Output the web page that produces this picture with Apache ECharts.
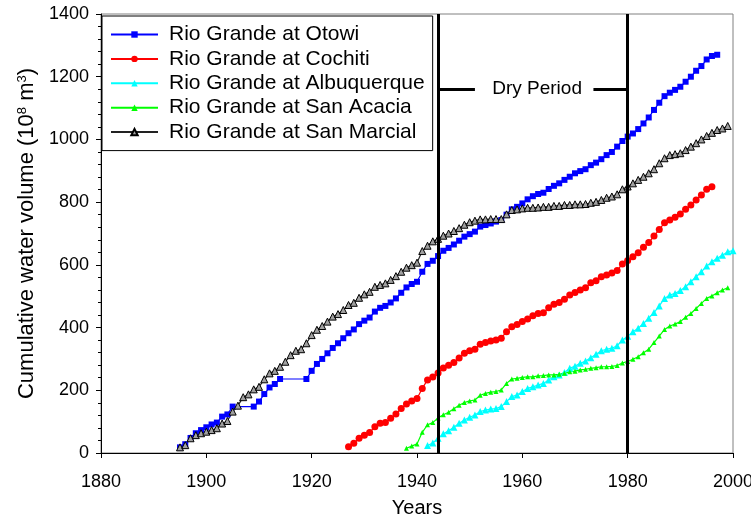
<!DOCTYPE html>
<html>
<head>
<meta charset="utf-8">
<style>
  html, body { margin: 0; padding: 0; background: #ffffff; }
  #chart { width: 751px; height: 520px; }
</style>
<script src="https://cdn.jsdelivr.net/npm/echarts@6/dist/echarts.min.js"></script>
</head>
<body>
<div id="chart"></div>
<script>
// Cumulative annual water volume (10^8 m^3) at five Rio Grande gauging stations.

const FONT = '"Liberation Sans", Arial, Helvetica, sans-serif';

// Axis ranges and tick spacing
const xMin = 1880, xMax = 2000, xStep = 20;
const yMin = 0, yMax = 1400, yStep = 200;

// Dry period markers
const dryStart = 1944;
const dryEnd = 1980;
const dryLevel = 1160;
const dryLabel = 'Dry Period';
const dryLabelYear = 1962.8;
const dryGapStart = 1951;
const dryGapEnd = 1973.5;

// Series names
const seriesNames = [
  'Rio Grande at Otowi',
  'Rio Grande at Cochiti',
  'Rio Grande at Albuquerque',
  'Rio Grande at San Acacia',
  'Rio Grande at San Marcial'
];

function span(first, last) {
  const out = [];
  for (let y = first; y <= last; y++) out.push(y);
  return out;
}

// Otowi (record has gaps 1906-1908 and 1915-1918)
const otowiYears = span(1895, 1905).concat(span(1909, 1914), span(1919, 1997));
const otowiValues = [
  18, 28, 48, 63, 73, 82, 91, 97, 116, 123, 148,
  148, 164, 188, 209, 220, 236,
  236, 262, 284, 300, 318, 335, 350, 366, 382, 394,
  411, 422, 432, 451, 463, 469, 480, 493, 511, 528,
  539, 546, 578, 603, 613,
  628, 645, 654, 665, 677, 690, 698, 706, 722, 727,
  732, 738, 743, 760, 777, 785, 796, 809, 819, 826,
  830, 842, 852, 860, 871, 881, 892, 899, 905, 918,
  926, 937, 950, 960, 977, 995, 1009, 1019, 1033, 1051,
  1070, 1094, 1117, 1138, 1149, 1158, 1168, 1184, 1200, 1219,
  1234, 1255, 1266, 1270
];

// Cochiti 1927-1996
const cochitiYears = span(1927, 1996);
const cochitiValues = [
  20, 31, 47, 57, 65, 84, 95, 97, 111, 124,
  142, 156, 166, 174, 206, 233, 242, 255, 271, 280,
  289, 303, 318, 326, 331, 347, 352, 357, 360, 366,
  387, 403, 410, 419, 427, 438, 445, 447, 463, 474,
  480, 490, 504, 512, 520, 527, 543, 549, 562, 568,
  574, 582, 603, 614, 626, 639, 656, 671, 692, 713,
  734, 743, 752, 762, 777, 791, 807, 823, 841, 849
];

// Albuquerque 1942-2000
const albuquerqueYears = span(1942, 2000);
const albuquerqueValues = [
  24, 32, 47, 61, 71, 82, 95, 105, 114, 121,
  132, 137, 140, 142, 148, 164, 180, 185, 196, 206,
  211, 217, 222, 233, 243, 249, 257, 270, 277, 286,
  293, 304, 315, 326, 331, 334, 342, 360, 372, 387,
  398, 413, 430, 448, 469, 493, 504, 509, 518, 530,
  546, 562, 578, 596, 610, 621, 631, 642, 645
];

// San Acacia 1938-1999
const sanAcaciaYears = span(1938, 1999);
const sanAcaciaValues = [
  15, 22, 29, 66, 90, 97, 112, 122, 130, 141,
  152, 161, 166, 169, 184, 190, 194, 196, 201, 222,
  236, 238, 241, 243, 243, 246, 247, 249, 249, 251,
  254, 259, 261, 265, 267, 270, 272, 275, 275, 276,
  279, 287, 292, 299, 307, 320, 331, 352, 373, 394,
  405, 411, 419, 433, 445, 461, 477, 493, 501, 511,
  520, 527
];

// San Marcial 1895-1999
const sanMarcialYears = span(1895, 1999);
const sanMarcialValues = [
  18, 25, 47, 57, 63, 68, 73, 79, 94, 102,
  132, 151, 178, 187, 203, 211, 235, 254, 262, 275,
  291, 312, 326, 331, 350, 376, 393, 405, 419, 435,
  443, 456, 472, 479, 495, 506, 514, 530, 536, 541,
  552, 564, 578, 591, 599, 607, 644, 661, 675, 683,
  693, 700, 708, 717, 728, 736, 741, 745, 745, 746,
  746, 746, 761, 775, 777, 780, 782, 782, 783, 785,
  785, 788, 788, 791, 791, 793, 793, 794, 798, 801,
  807, 814, 818, 825, 841, 850, 860, 871, 881, 892,
  905, 924, 940, 950, 953, 956, 966, 977, 988, 1000,
  1011, 1021, 1030, 1035, 1043
];

function pairs(years, values) {
  return years.map((y, i) => [y, values[i]]);
}

function lineSeries(name, years, values, color, symbol, size, extra) {
  const s = {
    name: name,
    type: 'line',
    data: pairs(years, values),
    symbol: symbol,
    symbolSize: size,
    showSymbol: true,
    lineStyle: { color: color, width: 1.2 },
    itemStyle: { color: color },
    emphasis: { disabled: true },
    animation: false,
    silent: true
  };
  return Object.assign(s, extra || {});
}

const chart = echarts.init(document.getElementById('chart'), null, { renderer: 'canvas' });

const series = [
  lineSeries(seriesNames[0], otowiYears, otowiValues, '#0000ff', 'rect', 6),
  lineSeries(seriesNames[1], cochitiYears, cochitiValues, '#ff0000', 'circle', 7),
  lineSeries(seriesNames[2], albuquerqueYears, albuquerqueValues, '#00ffff', 'triangle', 7),
  lineSeries(seriesNames[3], sanAcaciaYears, sanAcaciaValues, '#00ff00', 'triangle', 5),
  lineSeries(seriesNames[4], sanMarcialYears, sanMarcialValues, '#333333', 'triangle', 7, {
    itemStyle: { color: '#a0a0a0', borderColor: '#000000', borderWidth: 1 },
    lineStyle: { color: '#222222', width: 1.2 },
    markLine: {
      silent: true,
      animation: false,
      symbol: ['none', 'none'],
      label: { show: false },
      emphasis: { disabled: true },
      lineStyle: { color: '#000000', width: 3, type: 'solid' },
      data: [
        { xAxis: dryStart },
        { xAxis: dryEnd },
        [{ coord: [dryStart, dryLevel] }, { coord: [dryGapStart, dryLevel] }],
        [{ coord: [dryGapEnd, dryLevel] }, { coord: [dryEnd, dryLevel] }]
      ]
    },
    markPoint: {
      silent: true,
      animation: false,
      symbol: 'rect',
      symbolSize: 1,
      itemStyle: { color: 'rgba(0,0,0,0)' },
      label: {
        show: true,
        position: 'inside',
        formatter: dryLabel,
        color: '#000000',
        fontFamily: FONT,
        fontSize: 19
      },
      data: [{ coord: [dryLabelYear, dryLevel], value: dryLabel }]
    }
  })
];

const plainNumber = (v) => String(v);

chart.setOption({
  backgroundColor: '#ffffff',
  animation: false,
  grid: {
    left: 101, right: 18, top: 14, bottom: 67,
    containLabel: false,
    outerBoundsMode: 'none',
    show: true,
    borderColor: '#808080',
    borderWidth: 1,
    backgroundColor: 'rgba(0,0,0,0)'
  },
  legend: {
    data: seriesNames,
    orient: 'vertical',
    left: 102,
    top: 16,
    padding: [8, 8, 8, 8],
    itemGap: 3.4,
    itemWidth: 47,
    itemHeight: 8,
    selectedMode: false,
    backgroundColor: '#ffffff',
    borderColor: '#000000',
    borderWidth: 1,
    borderRadius: 0,
    lineStyle: { width: 2 },
    textStyle: {
      fontFamily: FONT,
      fontSize: 21,
      lineHeight: 21,
      color: '#000000',
      padding: [0, 0, 0, 6]
    }
  },
  xAxis: {
    type: 'value',
    min: xMin, max: xMax, interval: xStep,
    name: 'Years',
    nameLocation: 'middle',
    nameGap: 45,
    nameTextStyle: { fontFamily: FONT, fontSize: 20, color: '#000000' },
    axisLine: { show: true, onZero: false, lineStyle: { color: '#000000', width: 1 } },
    axisTick: { show: true, inside: false, length: 5, lineStyle: { color: '#000000' } },
    axisLabel: { show: true, margin: 20, fontFamily: FONT, fontSize: 18, color: '#000000', formatter: plainNumber },
    splitLine: { show: false }
  },
  yAxis: {
    type: 'value',
    min: yMin, max: yMax, interval: yStep,
    name: 'Cumulative water volume (10{s|8} m{s|3})',
    nameLocation: 'middle',
    nameGap: 53,
    nameRotate: 90,
    nameTextStyle: {
      fontFamily: FONT, fontSize: 22, color: '#000000',
      rich: { s: { fontFamily: FONT, fontSize: 13, color: '#000000', verticalAlign: 'top' } }
    },
    axisLine: { show: true, onZero: false, lineStyle: { color: '#000000', width: 1 } },
    axisTick: { show: true, inside: false, length: 5, lineStyle: { color: '#000000' } },
    minorTick: { show: true, splitNumber: 5, length: 3, lineStyle: { color: '#000000' } },
    axisLabel: { show: true, margin: 12, fontFamily: FONT, fontSize: 18, color: '#000000', formatter: plainNumber },
    splitLine: { show: false },
    minorSplitLine: { show: false }
  },
  tooltip: { show: false },
  series: series
});
</script>
</body>
</html>
